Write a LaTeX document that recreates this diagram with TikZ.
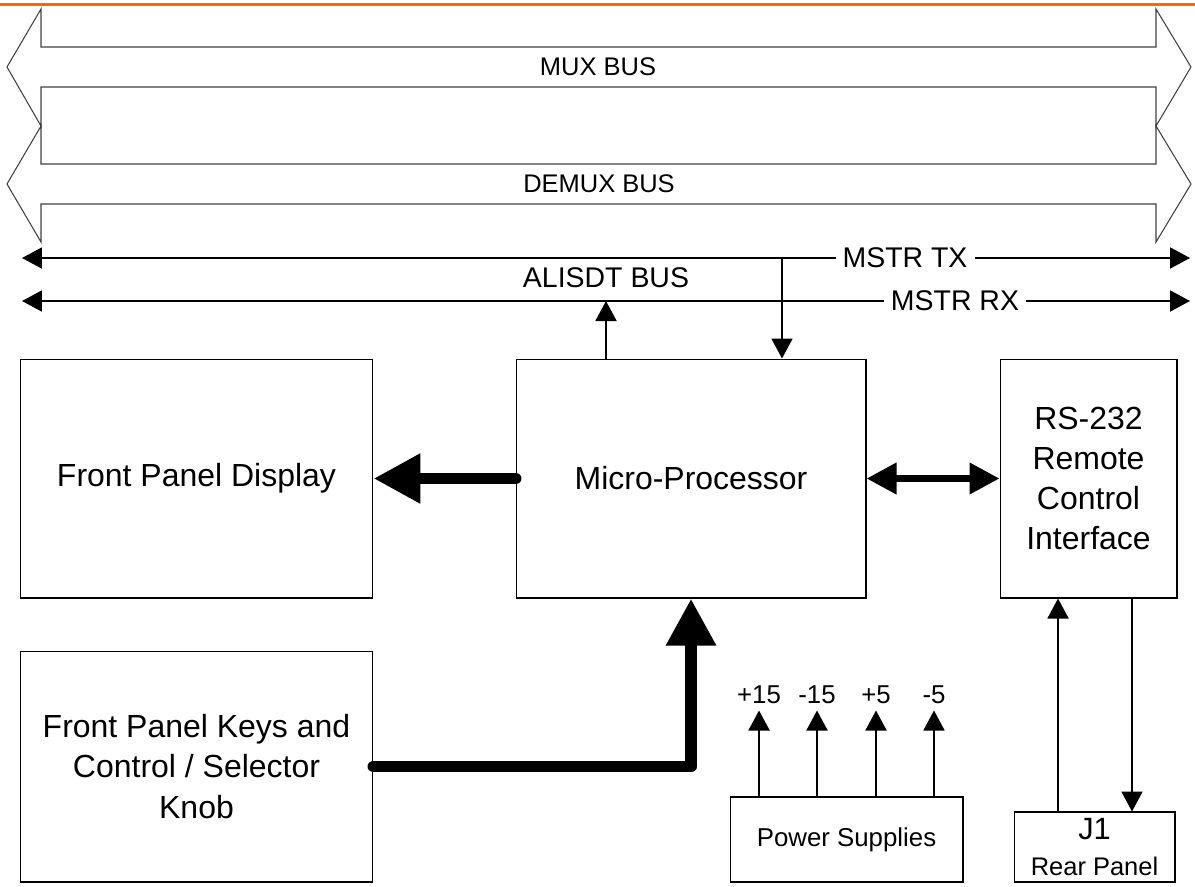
\documentclass[tikz,border=0pt]{standalone}
\usepackage{fontspec}
\setmainfont{Liberation Sans}
\usetikzlibrary{arrows.meta, calc}
\definecolor{topline}{RGB}{255,102,0}

\begin{document}
\begin{tikzpicture}[x=0.02cm, y=-0.02cm,
		blk/.style={draw, line width=0.6pt, align=center, inner sep=0pt, font=\fontsize{18.2}{22.8}\selectfont},
		busout/.style={draw=black!75, line width=0.6pt, line join=miter},
		buslbl/.style={font=\fontsize{14.5}{17}\selectfont},
		wirelbl/.style={font=\fontsize{16.2}{19}\selectfont, fill=white, inner ysep=1pt, inner xsep=4pt},
		sig/.style={line width=1.1pt, -{Triangle[length=0.4cm,width=0.42cm]}},
		wire/.style={line width=1.1pt, {Triangle[length=0.4cm,width=0.42cm]}-{Triangle[length=0.4cm,width=0.42cm]}},
		fat/.style={line width=6.8pt, line cap=round, line join=round, -{Triangle[length=0.94cm,width=0.94cm]}},
		both/.style={line width=4pt, {Triangle[length=0.6cm,width=0.6cm]}-{Triangle[length=0.6cm,width=0.6cm]}},
		small/.style={font=\fontsize{14.7}{17}\selectfont}]
		\useasboundingbox (0,0) rectangle (1195,886);
		\draw[topline, line width=2pt] (0,4.5) -- (1195,4.5);
		%
		%buses
		\draw[busout] (41,47) -- (41,9) -- (7,67) -- (41,126) -- (41,87) -- (1156,87) -- (1156,126) -- (1191,67) -- (1156,9) -- (1156,47) -- cycle;
		\node (mux) at (598,67) [buslbl] {MUX BUS};
		\draw[busout] (41,164) -- (41,126) -- (7,184) -- (41,242) -- (41,204) -- (1156,204) -- (1156,242) -- (1191,184) -- (1156,126) -- (1156,164) -- cycle;
		\node (demux) at (599,184) [buslbl] {DEMUX BUS};
		%
		%
		\coordinate (txw) at (22,258);
		\coordinate (txe) at (1190,258);
		\coordinate (rxw) at (22,301);
		\coordinate (rxe) at (1190,301);
		\draw[wire] (txw) -- (txe);
		\draw[wire] (rxw) -- (rxe);
		\node (tx) at (905,258) [wirelbl] {MSTR TX};
		\node (rx) at (955,301) [wirelbl] {MSTR RX};
		\node (alisdt) at (606,278) [font=\fontsize{16.2}{19}\selectfont] {ALISDT BUS};
		%
		%blocks
		\node (fpd) at (196.5,478.5) [blk, minimum width=7.06cm, minimum height=4.78cm] {Front Panel Display};
		\node (mp) at (691,478.5) [blk, minimum width=7cm, minimum height=4.78cm] {Micro-Processor};
		\node (rs) at (1088.5,478.5) [blk, minimum width=3.54cm, minimum height=4.78cm] {RS-232\\Remote\\Control\\Interface};
		\node (keys) at (196.5,766.5) [blk, minimum width=7.06cm, minimum height=4.62cm] {Front Panel Keys and\\Control / Selector\\Knob};
		\node (ps) at (846.5,839.5) [blk, small, minimum width=4.66cm, minimum height=1.7cm] {Power Supplies};
		\node (j1) at (1094.5,847) [blk, minimum width=3.22cm, minimum height=1.4cm] {{\fontsize{17.5}{20}\selectfont J1}\\[-2pt]{\fontsize{14.5}{17}\selectfont Rear Panel}};
		%
		%
		\coordinate (rxtap) at (606,301);
		\coordinate (txtap) at (782,258);
		\draw[sig] (mp.north -| rxtap) -- (rxtap);
		\draw[sig] (txtap) -- (txtap |- mp.north);
		%
		\draw[fat] (mp.west) -- (fpd.east);
		\draw[both] (mp.east) -- (rs.west);
		\draw[fat] (keys.east) -| (mp.south);
		%
		%supply rails
		\foreach \dx/\v [count=\i] in {-1.75/+15,-0.59/-15,0.59/+5,1.75/-5}{
			\draw[sig] ([xshift=\dx cm]ps.north) -- ++(0,1.72cm) node[above, small] (rail\i) {\v};
		}
		%
		\draw[sig] ([xshift=-0.73cm]j1.north) -- ([xshift=-0.73cm]j1.north |- rs.south);
		\draw[sig] ([xshift=0.75cm]j1.north |- rs.south) -- ([xshift=0.75cm]j1.north);
	\end{tikzpicture}
\end{document}
